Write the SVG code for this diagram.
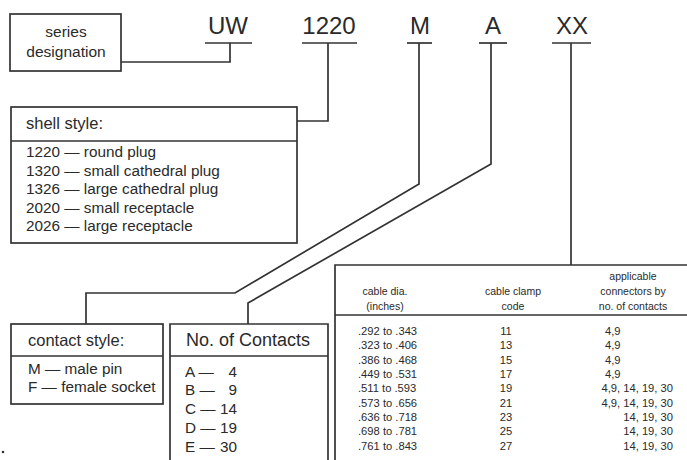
<svg xmlns="http://www.w3.org/2000/svg" width="687" height="460" viewBox="0 0 687 460">
<style>
text{font-family:"Liberation Sans",Arial,sans-serif;fill:#2a2a2a}
.box{fill:none;stroke:#333;stroke-width:1.7}
.ln{fill:none;stroke:#333;stroke-width:1.7}
.code{font-size:24px;text-anchor:middle}
.h{font-size:16.5px}
.it{font-size:15.3px}
.th{font-size:10.5px;text-anchor:middle}
.td{font-size:11.2px}
.c{text-anchor:middle}
.e{text-anchor:end}
</style>
<rect width="687" height="460" fill="#fff"/>
<g id="codes">
<text class="code" x="228" y="34">UW</text>
<text class="code" x="329" y="34">1220</text>
<text class="code" x="420" y="34">M</text>
<text class="code" x="493" y="34">A</text>
<text class="code" x="572" y="34">XX</text>
<g class="ln" stroke-width="2">
<line x1="205" y1="43" x2="252" y2="43"/>
<line x1="302" y1="43" x2="357" y2="43"/>
<line x1="407" y1="43" x2="432" y2="43"/>
<line x1="479" y1="43" x2="507" y2="43"/>
<line x1="552" y1="43" x2="591" y2="43"/>
</g>
</g>
<g id="connectors" class="ln">
<polyline points="230,43 230,62 121,62"/>
<polyline points="328,43 328,121 297,121"/>
<polyline points="419,43 419,184 235,293 86,293 86,324"/>
<polyline points="491,43 491,164 248,303 248,324"/>
<polyline points="571,43 571,265"/>
</g>
<g id="series">
<rect class="box" x="10" y="14" width="111" height="57"/>
<text class="c" x="66" y="37" font-size="15.5">series</text>
<text class="c" x="66" y="57" font-size="15.5">designation</text>
</g>
<g id="shell">
<rect class="box" x="11" y="107" width="286" height="136"/>
<line class="ln" x1="11" y1="141" x2="297" y2="141"/>
<text class="h" x="26" y="129">shell style:</text>
<text class="it" x="26" y="157">1220 — round plug</text>
<text class="it" x="26" y="176">1320 — small cathedral plug</text>
<text class="it" x="26" y="194">1326 — large cathedral plug</text>
<text class="it" x="26" y="213">2020 — small receptacle</text>
<text class="it" x="26" y="231">2026 — large receptacle</text>
</g>
<g id="contact">
<rect class="box" x="11" y="324" width="152" height="80"/>
<line class="ln" x1="11" y1="356" x2="163" y2="356"/>
<text class="h" x="28" y="346">contact style:</text>
<text class="it" x="28" y="374">M — male pin</text>
<text class="it" x="28" y="392">F — female socket</text>
</g>
<g id="contacts">
<polyline class="box" points="170,461 170,324 328,324 328,461"/>
<line class="ln" x1="170" y1="356" x2="328" y2="356"/>
<text class="c" x="248" y="346" font-size="18">No. of Contacts</text>
<text class="it" x="185" y="377">A —<tspan x="237" text-anchor="end">4</tspan></text>
<text class="it" x="185" y="395">B —<tspan x="237" text-anchor="end">9</tspan></text>
<text class="it" x="185" y="414">C —<tspan x="237" text-anchor="end">14</tspan></text>
<text class="it" x="185" y="433">D —<tspan x="237" text-anchor="end">19</tspan></text>
<text class="it" x="185" y="452">E —<tspan x="237" text-anchor="end">30</tspan></text>
</g>
<g id="table">
<polyline class="box" points="688,265 335,265 335,461"/>
<line class="ln" x1="335" y1="315" x2="688" y2="315"/>
<text class="th" x="385" y="295">cable dia.</text>
<text class="th" x="385" y="310">(inches)</text>
<text class="th" x="513" y="295">cable clamp</text>
<text class="th" x="513" y="310">code</text>
<text class="th" x="633" y="280">applicable</text>
<text class="th" x="633" y="295">connectors by</text>
<text class="th" x="633" y="310">no. of contacts</text>
<g class="td">
<text x="358" y="335">.292 to .343</text>
<text x="358" y="349">.323 to .406</text>
<text x="358" y="364">.386 to .468</text>
<text x="358" y="378">.449 to .531</text>
<text x="358" y="392">.511 to .593</text>
<text x="358" y="407">.573 to .656</text>
<text x="358" y="421">.636 to .718</text>
<text x="358" y="435">.698 to .781</text>
<text x="358" y="450">.761 to .843</text>
</g>
<g class="td c">
<text x="506" y="335">11</text>
<text x="506" y="349">13</text>
<text x="506" y="364">15</text>
<text x="506" y="378">17</text>
<text x="506" y="392">19</text>
<text x="506" y="407">21</text>
<text x="506" y="421">23</text>
<text x="506" y="435">25</text>
<text x="506" y="450">27</text>
</g>
<g class="td">
<text x="605" y="335">4,9</text>
<text x="605" y="349">4,9</text>
<text x="605" y="364">4,9</text>
<text x="605" y="378">4,9</text>
<text x="673" y="392" text-anchor="end">4,9, 14, 19, 30</text>
<text x="673" y="407" text-anchor="end">4,9, 14, 19, 30</text>
<text x="673" y="421" text-anchor="end">14, 19, 30</text>
<text x="673" y="435" text-anchor="end">14, 19, 30</text>
<text x="673" y="450" text-anchor="end">14, 19, 30</text>
</g>
</g>
<circle cx="3" cy="452" r="1.3" fill="#333"/>
</svg>
